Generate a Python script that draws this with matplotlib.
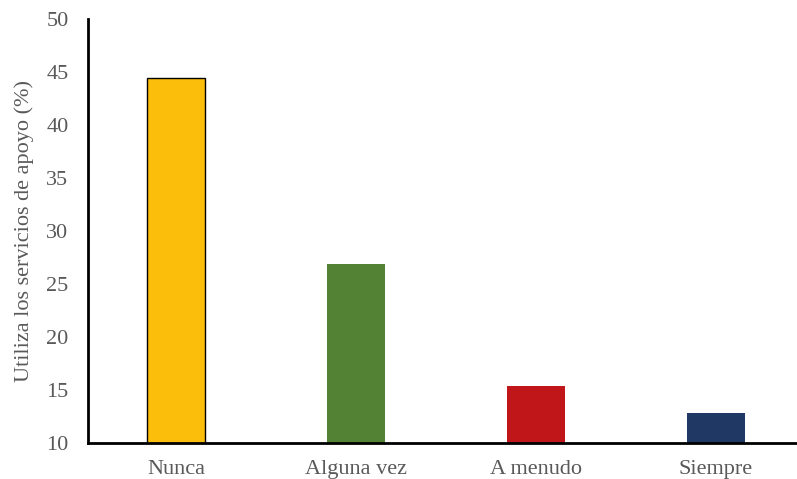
import matplotlib
matplotlib.use('Agg')
import matplotlib.pyplot as plt

categories = ['Nunca', 'Alguna vez', 'A menudo', 'Siempre']
values = [44.4, 26.9, 15.4, 12.8]
colors = ['#FBBE0B', '#548235', '#C0161A', '#203864']
yticks = [10, 15, 20, 25, 30, 35, 40, 45, 50]

plt.rcParams['font.family'] = ['Liberation Serif', 'DejaVu Serif']
text_color = '#595959'

fig = plt.figure(figsize=(7.97, 4.79), dpi=100)
ax = fig.add_axes([0.1104, 0.0752, 0.8896, 0.8848])

x = list(range(len(categories)))
bars = ax.bar(x, values, width=0.32, color=colors, zorder=2)
bars[0].set_edgecolor('black')
bars[0].set_linewidth(1.0)

ax.set_xlim(-0.49, 3.45)
ax.set_ylim(10, 50)
ax.set_yticks(yticks)
ax.set_xticks(x)
ax.set_xticklabels(categories)

ax.spines['top'].set_visible(False)
ax.spines['right'].set_visible(False)
ax.spines['left'].set_linewidth(2)
ax.spines['bottom'].set_linewidth(2)
ax.tick_params(axis='both', length=0, labelsize=16, colors=text_color)
ax.tick_params(axis='x', pad=12)
ax.tick_params(axis='y', pad=14)
ax.set_ylabel('Utiliza los servicios de apoyo (%)', fontsize=16, color=text_color, labelpad=9)

fig.savefig('out.png', dpi=100)
